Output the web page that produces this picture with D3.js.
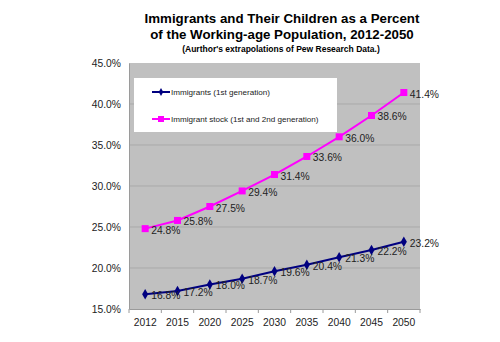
<!DOCTYPE html>
<html>
<head>
<meta charset="utf-8">
<script src="https://cdn.jsdelivr.net/npm/d3@7"></script>
<style>
  html, body { margin: 0; padding: 0; background: #fff; }
  svg { display: block; font-family: "Liberation Sans", Arial, sans-serif; }
</style>
</head>
<body>
<svg id="chart" width="500" height="342"></svg>
<script>
// Projected shares of the working-age population
const years = ["2012", "2015", "2020", "2025", "2030", "2035", "2040", "2045", "2050"];
const immigrants = [16.8, 17.2, 18.0, 18.7, 19.6, 20.4, 21.3, 22.2, 23.2];
const immigrantStock = [24.8, 25.8, 27.5, 29.4, 31.4, 33.6, 36.0, 38.6, 41.4];
const yTicks = [15, 20, 25, 30, 35, 40, 45];
const seriesNames = ["Immigrants (1st generation)", "Immigrant stock (1st and 2nd generation)"];

const svg = d3.select("#chart");
const plot = { left: 129, right: 420, top: 63, bottom: 309 };
const labelFont = 10.3;

const x = d3.scaleBand().domain(years).range([plot.left, plot.right]);
const y = d3.scaleLinear().domain([15, 45]).range([plot.bottom, plot.top]);
const cx = d => x(d) + x.bandwidth() / 2;

// Titles
const title = svg.append("g").attr("text-anchor", "middle").attr("font-weight", "bold").attr("fill", "#000");
title.append("text").attr("x", 282).attr("y", 23).attr("font-size", 13.3)
  .text("Immigrants and Their Children as a Percent");
title.append("text").attr("x", 282).attr("y", 39).attr("font-size", 13.3)
  .text("of the Working-age Population, 2012-2050");
title.append("text").attr("x", 281).attr("y", 52).attr("font-size", 8.5)
  .text("(Aurthor's extrapolations of Pew Research Data.)");

// Plot area
svg.append("rect")
  .attr("x", plot.left).attr("y", plot.top)
  .attr("width", plot.right - plot.left).attr("height", plot.bottom - plot.top)
  .attr("fill", "#c0c0c0");

// Gridlines
svg.append("g").selectAll("line")
  .data(yTicks.filter(t => t > 15 && t < 45))
  .join("line")
  .attr("x1", plot.left).attr("x2", plot.right)
  .attr("y1", d => y(d)).attr("y2", d => y(d))
  .attr("stroke", "#a9a9a9").attr("stroke-width", 1);

// Y axis
const yAxis = svg.append("g")
  .attr("transform", `translate(${plot.left},0)`)
  .call(d3.axisLeft(y).tickValues(yTicks).tickSize(0).tickPadding(8)
    .tickFormat(d => d.toFixed(1) + "%"));
yAxis.select(".domain").attr("stroke", "#9a9a9a");
yAxis.selectAll("text").attr("font-size", labelFont).attr("fill", "#222")
  .attr("font-family", "Liberation Sans, Arial, sans-serif");

// X axis with ticks between categories
const xAxis = svg.append("g")
  .attr("transform", `translate(0,${plot.bottom})`)
  .call(d3.axisBottom(x).tickSize(0).tickPadding(10));
xAxis.select(".domain").attr("stroke", "#9a9a9a");
xAxis.selectAll("text").attr("font-size", labelFont).attr("fill", "#222")
  .attr("font-family", "Liberation Sans, Arial, sans-serif");
svg.append("g").selectAll("line")
  .data(d3.range(years.length + 1))
  .join("line")
  .attr("x1", i => plot.left + i * x.step()).attr("x2", i => plot.left + i * x.step())
  .attr("y1", plot.bottom).attr("y2", plot.bottom + 4)
  .attr("stroke", "#9a9a9a");

const line = d3.line().x((d, i) => cx(years[i])).y(d => y(d));

// Immigrant stock series (magenta, squares)
svg.append("path").datum(immigrantStock)
  .attr("d", line).attr("fill", "none")
  .attr("stroke", "#ff00ff").attr("stroke-width", 2);
svg.append("g").selectAll("rect")
  .data(immigrantStock).join("rect")
  .attr("x", (d, i) => cx(years[i]) - 3.5).attr("y", d => y(d) - 3.5)
  .attr("width", 7).attr("height", 7).attr("fill", "#ff00ff");

// Immigrants series (navy, diamonds)
svg.append("path").datum(immigrants)
  .attr("d", line).attr("fill", "none")
  .attr("stroke", "#000080").attr("stroke-width", 2);
const diamond = d3.symbol().type(d3.symbolDiamond).size(32);
svg.append("g").selectAll("path")
  .data(immigrants).join("path")
  .attr("d", diamond)
  .attr("transform", (d, i) => `translate(${cx(years[i])},${y(d)})`)
  .attr("fill", "#000080");

// Value labels
const labels = svg.append("g").attr("font-size", labelFont).attr("fill", "#222");
[immigrantStock, immigrants].forEach(series => {
  labels.append("g").selectAll("text")
    .data(series).join("text")
    .attr("x", (d, i) => cx(years[i]) + 6)
    .attr("y", d => y(d) + 5)
    .text(d => d.toFixed(1) + "%");
});

// Legend
const legend = svg.append("g");
legend.append("rect")
  .attr("x", 134).attr("y", 78).attr("width", 203).attr("height", 54)
  .attr("fill", "#fff");
const legendColors = ["#000080", "#ff00ff"];
seriesNames.forEach((name, i) => {
  const ly = 92 + i * 27;
  legend.append("line")
    .attr("x1", 152).attr("x2", 170).attr("y1", ly).attr("y2", ly)
    .attr("stroke", legendColors[i]).attr("stroke-width", 2);
  if (i === 0) {
    legend.append("path").attr("d", d3.symbol().type(d3.symbolDiamond).size(18))
      .attr("transform", `translate(161,${ly})`).attr("fill", legendColors[i]);
  } else {
    legend.append("rect").attr("x", 158).attr("y", ly - 3).attr("width", 6).attr("height", 6)
      .attr("fill", legendColors[i]);
  }
  legend.append("text")
    .attr("x", 171).attr("y", ly + 3)
    .attr("font-size", 8.1).attr("fill", "#222")
    .text(name);
});
</script>
</body>
</html>
